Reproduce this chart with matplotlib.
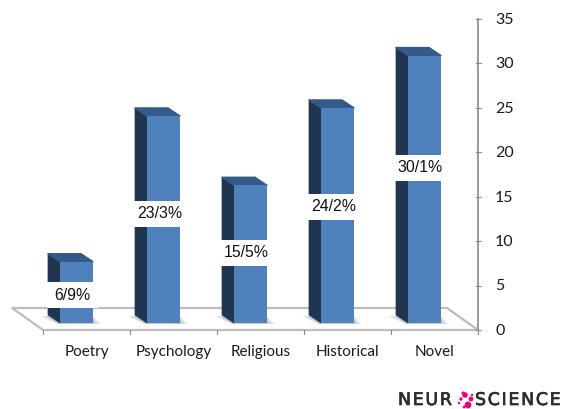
#!usr/bin/env python3
"""Book genre bars with a fake 3D look, like the old spreadsheet charts."""

import numpy as np
import matplotlib
matplotlib.use("Agg")
import matplotlib.pyplot as plt
import matplotlib.patheffects as pe
from matplotlib.patches import Polygon, Rectangle

categories = ["Poetry", "Psychology", "Religious", "Historical", "Novel"]
values = [6.9, 23.3, 15.5, 24.2, 30.1]
bar_labels = ["6/9%", "23/3%", "15/5%", "24/2%", "30/1%"]
y_ticks = [0, 5, 10, 15, 20, 25, 30, 35]
label_heights = [3.93, 13.1, 8.7, 13.85, 18.25]

W, H = 563, 409
fig = plt.figure(figsize=(W / 100, H / 100), dpi=100)

# Axes box: floor front edge is x axis, right wall is y axis
left, right, bottom, top = 43, 478, 330, 19
ax = fig.add_axes([left / W, 1 - bottom / H, (right - left) / W, (bottom - top) / H])
ax.set_xlim(0, 5)
ax.set_ylim(0, 35)
ax.axis("off")

px_x = 5 / (right - left)
px_y = 35 / (bottom - top)
depth_x = 12 * px_x
depth_y = 8 * px_y
base = 7 * px_y  # front of bars stands a bit behind front floor edge
bar_w = 33 * px_x
xs = np.arange(5) + 0.5 - 10 * px_x

grey = "#bdbdbd"

# Floor
ax.add_patch(Polygon([(0, 0), (5, 0), (5 - 31 * px_x, 22 * px_y), (-31 * px_x, 22 * px_y)],
                     closed=True, facecolor="white", edgecolor=grey, linewidth=1.6,
                     clip_on=False, zorder=1))
for i in range(6):
    ax.plot([i, i], [0, -4 * px_y], color="#8c8c8c", linewidth=0.8, clip_on=False, zorder=1)

# Right hand axis
ax.plot([5, 5], [0, 35], color="#9a9a9a", linewidth=1.4, clip_on=False, zorder=1)
for t in y_ticks:
    ax.plot([5 - 2 * px_x, 5 + 3 * px_x], [t, t], color="#8c8c8c", linewidth=0.8, clip_on=False, zorder=1)
    ax.text(5 + 17 * px_x, t - 0.1, str(t), family="Lato", fontsize=11.5, color="#1a1a1a",
            ha="left", va="center", zorder=5)

for x, name in zip(xs + 10 * px_x, categories):
    ax.text(x, -2.5, name, family="Lato", fontsize=11, color="#1a1a1a",
            ha="center", va="center", zorder=5)

# Bars: shadow, side, cap, front
for x, v in zip(xs, values):
    x0 = x - bar_w / 2
    for g in [9, 7, 5, 3, 1]:
        ax.add_patch(Polygon([(x0 - depth_x - g * px_x, base + 7 * px_y),
                              (x0 - 2 * px_x, base - 1 * px_y),
                              (x0 + bar_w + g * px_x, base - 1 * px_y),
                              (x0 + bar_w, base + 6 * px_y)],
                             closed=True, facecolor="#555555", alpha=0.07, edgecolor="none", zorder=2))
    ax.add_patch(Polygon([(x0, base), (x0 - depth_x, base + depth_y),
                          (x0 - depth_x, base + v + depth_y), (x0, base + v)],
                         closed=True, facecolor="#1f3550", edgecolor="#1f3550", linewidth=0.5,
                         joinstyle="round", zorder=3))
    ax.add_patch(Polygon([(x0, base + v), (x0 - depth_x, base + v + depth_y),
                          (x0 + bar_w - depth_x, base + v + depth_y), (x0 + bar_w, base + v)],
                         closed=True, facecolor="#345a8a", edgecolor="#345a8a", linewidth=1.0,
                         joinstyle="round", zorder=3))

ax.bar(xs, values, width=bar_w, bottom=base, color="#4f81bd", edgecolor="none", zorder=4)

# White value boxes on top of bars
box_w = 51 * px_x
box_h = 26 * px_y
for x, h, s in zip(xs, label_heights, bar_labels):
    ax.add_patch(Rectangle((x - 4 * px_x - box_w / 2, h - box_h / 2), box_w, box_h,
                           facecolor="white", edgecolor="none", zorder=6))
    ax.text(x - 4 * px_x, h, s, family="Liberation Sans", fontsize=11.4, color="#111111",
            ha="center", va="center", zorder=7)

# Logo at bottom right, in pixel coordinates
logo = fig.add_axes([0, 0, 1, 1], facecolor="none")
logo.set_xlim(0, W)
logo.set_ylim(H, 0)
logo.axis("off")
hair = "\u200a"
heavier = [pe.withStroke(linewidth=0.5, foreground="#2b2b2b")]
logo.text(398, 405, hair.join("NEUR"), family="DejaVu Sans", fontsize=12.5, color="#2b2b2b",
          ha="left", va="baseline", path_effects=heavier)
logo.text(561, 405, hair.join("SCIENCE"), family="DejaVu Sans", fontsize=12.5, color="#2b2b2b",
          ha="right", va="baseline", path_effects=heavier)
dot_x = [465, 471, 468, 461, 459, 463, 464, 472]
dot_y = [395, 399, 405, 399, 403, 393, 407, 395]
dot_s = [16, 12, 24, 6, 3, 5, 4, 3]
logo.scatter(dot_x, dot_y, s=dot_s, color="#e6007e", linewidths=0)

fig.savefig("out.png", dpi=100)
